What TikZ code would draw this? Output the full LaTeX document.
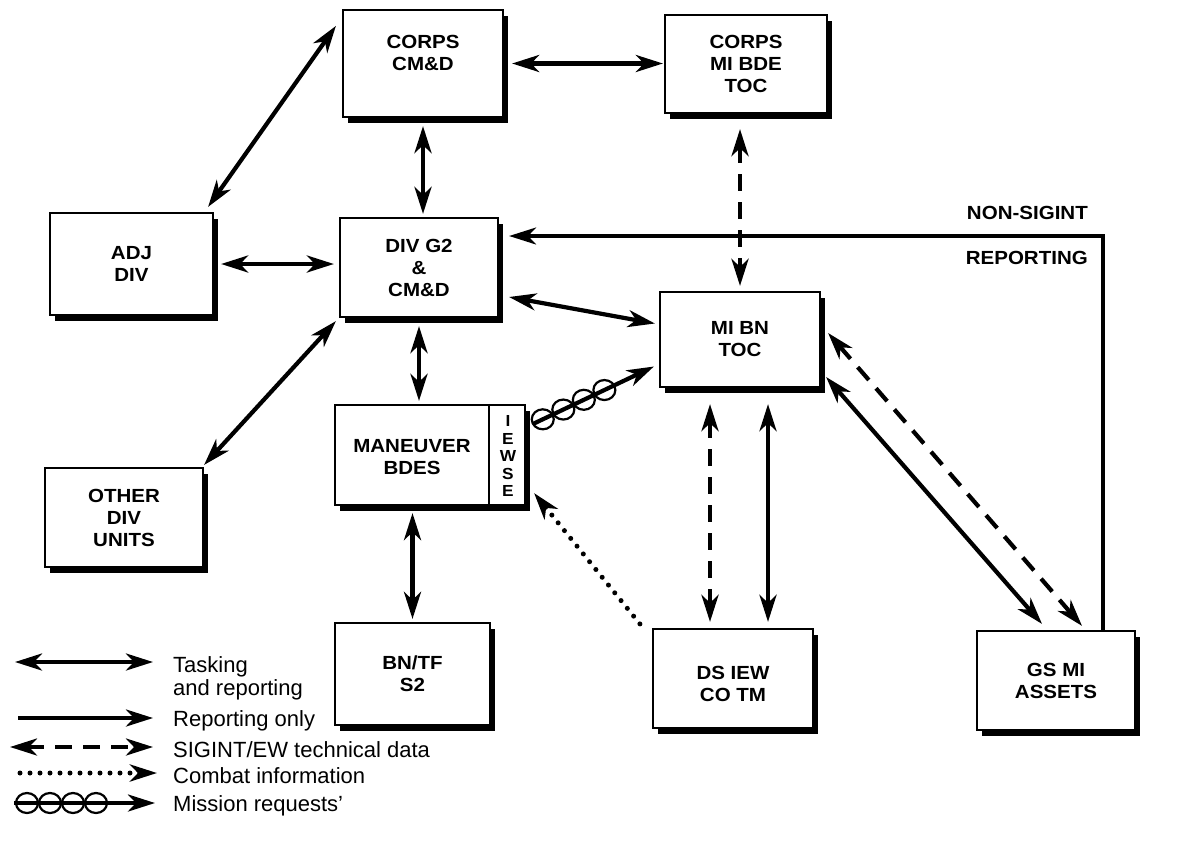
\documentclass[tikz,border=0pt]{standalone}
\usepackage{fontspec}
\setmainfont{Liberation Sans}
\newfontfamily\bx{Liberation Sans}[FakeStretch=1.08]
\usetikzlibrary{arrows.meta,shadows,calc}
\tikzset{bigtip/.tip={Stealth[length=27pt,width=17pt,inset=8pt]}}
\begin{document}
\begin{tikzpicture}[x=1pt,y=-1pt,
  box/.style={draw,line width=2.2pt,fill=white,
    drop shadow={shadow xshift=5pt,shadow yshift=-6pt,opacity=1,fill=black},
    inner sep=0pt,align=center,font=\bx\bfseries\fontsize{19}{22}\selectfont},
  lbl/.style={align=center,font=\bx\bfseries\fontsize{19}{22}\selectfont,inner sep=0pt},
  conn/.style={line width=4.2pt},
  tr/.style={conn,bigtip-bigtip},
  rep/.style={conn,-bigtip},
  sig/.style={tr,dash pattern=on 17pt off 11pt},
  cmb/.style={line width=5pt,-bigtip,line cap=round,dash pattern=on 0pt off 10pt},
  ring/.style={line width=2.2pt},
  leg/.style={anchor=west,font=\fontsize{22}{23}\selectfont,inner sep=0pt},
]
\useasboundingbox (0,0) rectangle (1177,852);

% boxes
\node[box,minimum width=160pt,minimum height=107pt] (corps) at (423,63.5) {};
\node[lbl] (corpst) at (423,53) {CORPS\\CM\&D};
\node[box,minimum width=162pt,minimum height=98pt] (bde) at (746,64) {CORPS\\MI BDE\\TOC};
\node[box,minimum width=163pt,minimum height=102pt] (adj) at (131.5,264) {ADJ\\DIV};
\node[box,minimum width=158pt,minimum height=99pt] (g2) at (419,267.5) {DIV G2\\\&\\CM\&D};
\node[box,minimum width=160pt,minimum height=95pt] (mibn) at (740,339.5) {MI BN\\TOC};
\node[box,minimum width=190pt,minimum height=100pt] (man) at (430,455) {};
\node[lbl] (mant) at (412,457) {MANEUVER\\BDES};
\draw[line width=2.2pt] ([xshift=155pt]man.north west) -- ([xshift=155pt]man.south west);
\node[lbl,font=\bx\bfseries\fontsize{16}{17.5}\selectfont] (iewse) at (508,456) {I\\E\\W\\S\\E};
\node[box,minimum width=158pt,minimum height=99pt] (other) at (124,517.5) {OTHER\\DIV\\UNITS};
\node[box,minimum width=155pt,minimum height=102pt] (bntf) at (412.5,674) {BN/TF\\S2};
\node[box,minimum width=160pt,minimum height=99pt] (ds) at (733,678.5) {};
\node[lbl] (dst) at (733,683.5) {DS IEW\\CO TM};
\node[box,minimum width=158pt,minimum height=99pt] (gs) at (1056,680.5) {GS MI\\ASSETS};

% connectors
\draw[tr,shorten <=8pt,shorten >=1pt] (corps.east) -- (corps.east -| bde.west);
\draw[tr,shorten <=8pt,shorten >=3pt] (corps.south) -- (corps.south |- g2.north);
\draw[sig,shorten <=15pt,shorten >=5pt] (mibn.north |- bde.south) -- (mibn.north);
\draw[tr] ([xshift=-6pt,yshift=5pt]adj.north east) -- ([xshift=-6pt,yshift=-17pt]corps.north west);
\draw[tr,shorten <=7pt,shorten >=5pt] (adj.east) -- (adj.east -| g2.west);
\draw[tr] ([xshift=10pt,yshift=-29.5pt]g2.east) -- ([xshift=-4pt,yshift=16pt]mibn.west);
\draw[tr] ([xshift=-3pt,yshift=-3pt]g2.south west) -- ([yshift=2pt]other.north east);
\draw[tr,shorten <=8pt,shorten >=3pt] (g2.south) -- (g2.south |- man.north);
\draw[tr,shorten <=7pt,shorten >=3pt] (bntf.north |- man.south) -- (bntf.north);

\coordinate (ms) at ([xshift=7pt,yshift=-20pt]man.north east);
\coordinate (me) at ([xshift=-5pt,yshift=-27pt]mibn.west);
\draw[rep] (ms) -- (me);
\foreach \t in {0.08,0.25,0.42,0.59} \draw[ring] ($(ms)!\t!(me)$) circle[x radius=11pt,y radius=10pt];

\draw[cmb] ([xshift=-12pt,yshift=4pt]ds.north west) -- ([xshift=8pt,yshift=13pt]man.south east);

\draw[sig,shorten <=16pt,shorten >=6pt] ([xshift=-30pt]mibn.south) -- ([xshift=-30pt]mibn.south |- ds.north);
\draw[tr,shorten <=16pt,shorten >=6pt] ([xshift=28pt]mibn.south) -- ([xshift=28pt]mibn.south |- ds.north);

\draw[tr] ([xshift=5pt,yshift=-37.5pt]mibn.east) -- ([xshift=-14pt,yshift=6pt]gs.north);
\draw[sig] ([xshift=7pt,yshift=6.5pt]mibn.east) -- ([xshift=26pt,yshift=4pt]gs.north);

\draw[rep,line width=3.2pt] ([xshift=47pt]gs.north) |- ([xshift=10pt,yshift=31.5pt]g2.east);
\node[lbl,anchor=east] (ns) at (1088,213) {NON-SIGINT};
\node[lbl,anchor=east] (rp) at (1088,258) {REPORTING};

% legend
\coordinate (t1) at (15,662); \coordinate (t2) at (153,662);
\draw[tr] (t1) -- (t2);
\node[leg,align=left] (lt) at (173,678) {Tasking\\and reporting};
\coordinate (r1) at (18,718); \coordinate (r2) at (153,718);
\draw[rep] (r1) -- (r2);
\node[leg] (lr) at (173,721) {Reporting only};
\coordinate (s1) at (10,747); \coordinate (s2) at (153,747);
\draw[sig] (s1) -- (s2);
\node[leg] (ls) at (173,750) {SIGINT/EW technical data};
\coordinate (c1) at (20,773); \coordinate (c2) at (157,773);
\draw[cmb] (c1) -- (c2);
\node[leg] (lc) at (173,776) {Combat information};
\coordinate (m1) at (14,803); \coordinate (m2) at (155,803);
\draw[rep] (m1) -- (m2);
\foreach \x in {27,50,73,96} \draw[ring] (\x,803) circle[x radius=11pt,y radius=10pt];
\node[leg] (lm) at (173,806) {Mission requests'};
\end{tikzpicture}
\end{document}
